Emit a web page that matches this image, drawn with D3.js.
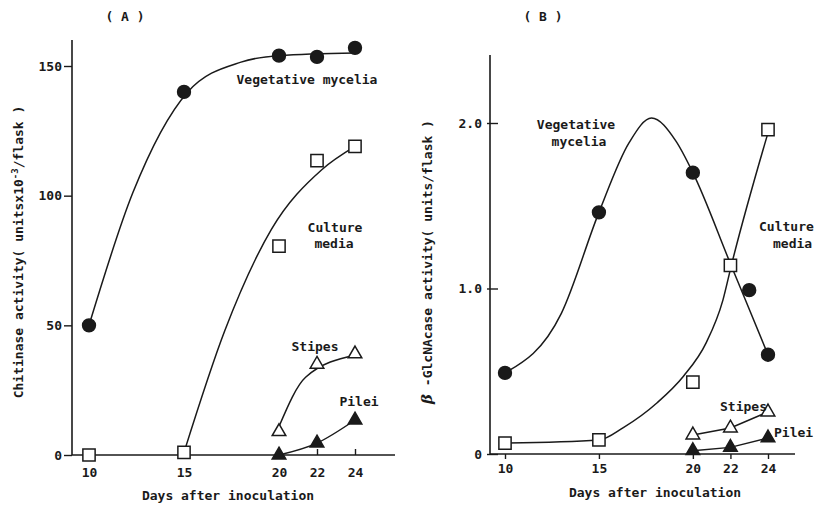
<!DOCTYPE html>
<html>
<head>
<meta charset="utf-8">
<script src="https://cdn.jsdelivr.net/npm/d3@7"></script>
<style>
  body { margin: 0; background: #fff; }
  text { font-family: "DejaVu Sans Mono", monospace; fill: #1a1a1a; font-weight: bold; }
</style>
</head>
<body>
<svg id="chart" width="820" height="505"></svg>
<script>
// ---- data ----
var dayTicks = [10, 15, 20, 22, 24];
var chitinaseTicks = [0, 50, 100, 150];
var glcTicks = [0, 1.0, 2.0];

// (A) chitinase, units x10^-3 / flask
var vegA = [[10, 50], [15, 140], [20, 154], [22, 153.5], [24, 157]];
var vegA_fit = [[10, 50], [12.3, 101], [15.2, 140], [18, 151.5], [20, 154], [24, 155]];
var cultA = [[10, 0], [15, 1], [20, 80.5], [22, 113.5], [24, 119]];
var cultA_fit = [[15, 1], [17.15, 48], [19.6, 87], [22.25, 110], [24, 119]];
var stipA = [[20, 9], [22, 35], [24, 39]];
var stipA_fit = [[20, 11], [21.4, 30], [24, 38.5]];
var pileA = [[20, 0], [22, 4.6], [24, 13.5]];

// (B) beta-GlcNAcase, units / flask
var vegB = [[10, 0.49], [15, 1.46], [20, 1.70], [23, 0.99], [24, 0.60]];
var vegB_fit = [[10, 0.49], [13, 0.85], [15, 1.46], [16.6, 1.88], [17.8, 2.03], [19.1, 1.89],
  [20, 1.70], [22, 1.15], [24, 0.6]];
var cultB = [[10, 0.066], [15, 0.085], [20, 0.435], [22, 1.14], [24, 1.96]];
var cultB_fit = [[10, 0.066], [15, 0.085], [16.3, 0.16], [18.1, 0.31], [19.5, 0.47], [20.7, 0.67],
  [21.6, 0.93], [22.05, 1.14], [24.05, 1.96]];
var stipB = [[20, 0.115], [22, 0.157], [24, 0.254]];
var pileB = [[20, 0.02], [22, 0.04], [24, 0.097]];

var ink = "#1a1a1a";
var svg = d3.select("#chart");

// draws one series: line + markers
function series(g, x, y, pts, fit, shape, filled, curve) {
  var line = d3.line()
    .x(d => x(d[0]))
    .y(d => y(d[1]))
    .curve(curve || d3.curveMonotoneX);
  if (fit) {
    g.append("path")
      .attr("d", line(fit))
      .attr("fill", "none")
      .attr("stroke", ink)
      .attr("stroke-width", 1.5);
  }
  var size = { circle: 130, square: 150, triangle: 80 }[shape];
  var type = { circle: d3.symbolCircle, square: d3.symbolSquare, triangle: d3.symbolTriangle }[shape];
  g.selectAll(null)
    .data(pts)
    .enter()
    .append("path")
    .attr("transform", d => `translate(${x(d[0])},${y(d[1])})`)
    .attr("d", d3.symbol().type(type).size(size))
    .attr("fill", filled ? ink : "#fff")
    .attr("stroke", ink)
    .attr("stroke-width", 1.5);
}

function label(g, txt, x, y, anchor) {
  g.append("text")
    .attr("x", x)
    .attr("y", y)
    .attr("dy", "0.35em")
    .attr("text-anchor", anchor || "middle")
    .attr("font-size", 13)
    .text(txt);
}

// ---------- panel A ----------
var gA = svg.append("g");
var xA = d3.scaleLinear().domain([10, 24]).range([89, 355]);
var yA = d3.scaleLinear().domain([0, 150]).range([455, 66]);

gA.append("g")
  .attr("transform", "translate(0,455)")
  .call(d3.axisBottom(xA).tickValues(dayTicks).tickSize(-6).tickPadding(13).tickFormat(d3.format("d")))
  .call(g => g.select(".domain").remove());
gA.append("g")
  .attr("transform", "translate(72,0)")
  .call(d3.axisLeft(yA).tickValues(chitinaseTicks).tickSize(8).tickPadding(2))
  .call(g => g.select(".domain").remove());
gA.append("line").attr("x1", 72).attr("x2", 395).attr("y1", 455).attr("y2", 455)
  .attr("stroke", ink).attr("stroke-width", 1.6);
gA.append("line").attr("x1", 72).attr("x2", 72).attr("y1", 40).attr("y2", 455)
  .attr("stroke", ink).attr("stroke-width", 1.6);

series(gA, xA, yA, vegA, vegA_fit, "circle", true);
series(gA, xA, yA, cultA, cultA_fit, "square", false);
series(gA, xA, yA, stipA, stipA_fit, "triangle", false);
series(gA, xA, yA, pileA, pileA, "triangle", true);

label(gA, "( A )", 125, 16);
label(gA, "Vegetative mycelia", 307, 79);
label(gA, "Culture", 335, 227);
label(gA, "media", 334, 243);
label(gA, "Stipes", 315, 346);
label(gA, "Pilei", 359, 401);
label(gA, "Days after inoculation", 228, 495);

var ylA = gA.append("text")
  .attr("transform", "translate(18,252) rotate(-90)")
  .attr("dy", "0.35em")
  .attr("text-anchor", "middle")
  .attr("font-size", 13);
ylA.append("tspan").text("Chitinase activity( unitsx10");
ylA.append("tspan").attr("dy", -5).attr("font-size", 9).text("-3");
ylA.append("tspan").attr("dy", 5).text("/flask )");

// ---------- panel B ----------
var gB = svg.append("g");
var xB = d3.scaleLinear().domain([10, 24]).range([505, 768]);
var yB = d3.scaleLinear().domain([0, 2]).range([454, 123]);

gB.append("g")
  .attr("transform", "translate(0,454)")
  .call(d3.axisBottom(xB).tickValues(dayTicks).tickSize(5).tickPadding(5).tickFormat(d3.format("d")))
  .call(g => g.select(".domain").remove());
gB.append("g")
  .attr("transform", "translate(490,0)")
  .call(d3.axisLeft(yB).tickValues(glcTicks).tickSize(3).tickPadding(5)
    .tickFormat(d => d === 0 ? "0" : d3.format(".1f")(d)))
  .call(g => g.select(".domain").remove())
  .call(g => g.selectAll(".tick line").attr("x1", 8));
gB.append("line").attr("x1", 490).attr("x2", 795).attr("y1", 454).attr("y2", 454)
  .attr("stroke", ink).attr("stroke-width", 1.6);
gB.append("line").attr("x1", 490).attr("x2", 490).attr("y1", 55).attr("y2", 454)
  .attr("stroke", ink).attr("stroke-width", 1.6);

series(gB, xB, yB, vegB, vegB_fit, "circle", true);
series(gB, xB, yB, cultB, cultB_fit, "square", false);
series(gB, xB, yB, stipB, stipB, "triangle", false, d3.curveLinear);
series(gB, xB, yB, pileB, pileB, "triangle", true, d3.curveLinear);

label(gB, "( B )", 543, 16);
label(gB, "Vegetative", 576, 124);
label(gB, "mycelia", 579, 141);
label(gB, "Culture", 759, 226, "start");
label(gB, "media", 773, 243, "start");
label(gB, "Stipes", 720, 406, "start");
label(gB, "Pilei", 774, 432, "start");
label(gB, "Days after inoculation", 655, 492);

var ylB = gB.append("text")
  .attr("transform", "translate(427,262) rotate(-90)")
  .attr("dy", "0.35em")
  .attr("text-anchor", "middle")
  .attr("font-size", 13);
ylB.append("tspan").attr("font-family", "DejaVu Serif").attr("font-style", "italic").attr("font-size", 15).text("β");
ylB.append("tspan").text(" -GlcNAcase activity( units/flask )");

svg.selectAll(".tick text").attr("font-size", 13).attr("fill", ink)
  .attr("font-family", "DejaVu Sans Mono");
svg.selectAll(".tick line").attr("stroke", ink).attr("stroke-width", 1.4);
</script>
</body>
</html>
